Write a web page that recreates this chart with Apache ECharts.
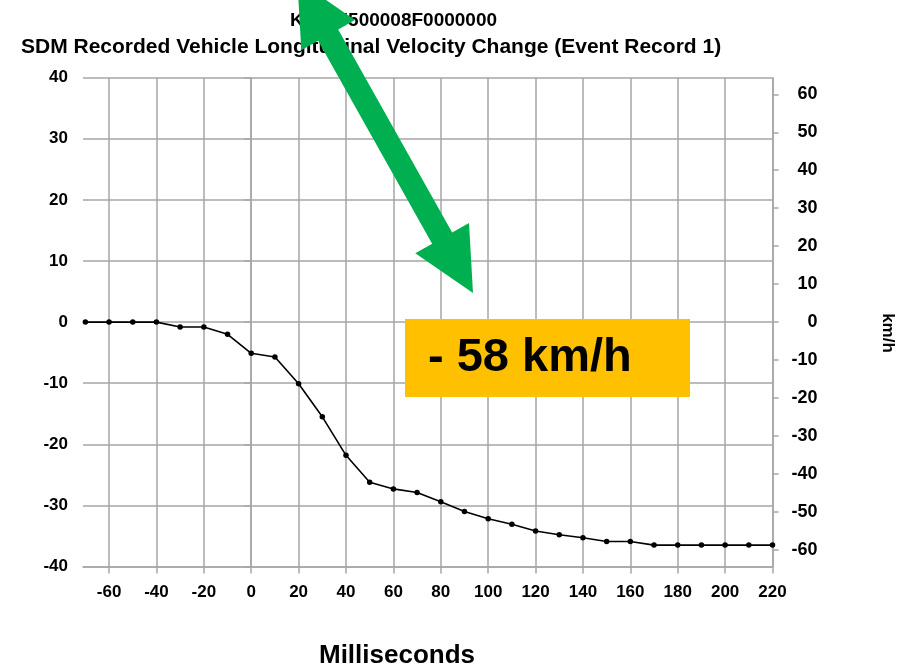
<!DOCTYPE html>
<html>
<head>
<meta charset="utf-8">
<script src="https://cdn.jsdelivr.net/npm/echarts@6/dist/echarts.min.js"></script>
<style>
  html, body { margin: 0; padding: 0; background: #ffffff; }
  #chart { width: 916px; height: 667px; }
</style>
</head>
<body>
<div id="chart"></div>
<script>
// Time relative to algorithm enable (ms)
const timeMs = [-70, -60, -50, -40, -30, -20, -10, 0, 10, 20, 30, 40, 50, 60, 70, 80, 90, 100,
  110, 120, 130, 140, 150, 160, 170, 180, 190, 200, 210, 220];
// Recorded longitudinal velocity change (mph)
const deltaVmph = [0, 0, 0, 0, -0.8, -0.8, -2.0, -5.1, -5.7, -10.1, -15.5, -21.8, -26.2, -27.3, -27.9,
  -29.4, -31.0, -32.2, -33.1, -34.2, -34.8, -35.3, -35.9, -35.9, -36.5, -36.5, -36.5, -36.5, -36.5, -36.5];

const xTicks = [-60, -40, -20, 0, 20, 40, 60, 80, 100, 120, 140, 160, 180, 200, 220];
const kmhTicks = [60, 50, 40, 30, 20, 10, 0, -10, -20, -30, -40, -50, -60];

const MPH_TO_KMH = 1.609344;
const titleLine1 = 'KL1TJ500008F0000000';
const titleLine2 = 'SDM Recorded Vehicle Longitudinal Velocity Change (Event Record 1)';

const FONT = 'Liberation Sans, Arial, sans-serif';
const GRID = '#a6a6a6';

// total change shown in the callout, taken from the last recorded sample
const finalKmh = Math.trunc(Math.abs(deltaVmph[deltaVmph.length - 1] * MPH_TO_KMH));
const calloutText = '- ' + finalKmh + ' km/h';

// double-headed arrow along a straight centre line
function arrowPoints() {
  const cx = 359, cy = 90, dx = 0.4897, dy = 0.872;
  const t0 = -126, t1 = 232.8, head = 63, hw = 30.8, sw = 11.5;
  const P = (t, s) => [cx + dx * t + dy * s, cy + dy * t - dx * s];
  return [
    P(t0, 0), P(t0 + head, hw), P(t0 + head, sw), P(t1 - head, sw), P(t1 - head, hw),
    P(t1, 0), P(t1 - head, -hw), P(t1 - head, -sw), P(t0 + head, -sw), P(t0 + head, -hw)
  ];
}

const chart = echarts.init(document.getElementById('chart'), null, { renderer: 'canvas' });

const labelStyle = { fontFamily: FONT, fontSize: 17, fontWeight: 'bold', color: '#000' };

chart.setOption({
  backgroundColor: '#ffffff',
  animation: false,
  title: [
    { text: titleLine1, left: 285, top: 6,
      textStyle: { fontFamily: FONT, fontSize: 19, fontWeight: 'bold', color: '#000' } },
    { text: titleLine2, left: 16, top: 32,
      textStyle: { fontFamily: FONT, fontSize: 21, fontWeight: 'bold', color: '#000' } }
  ],
  grid: { left: 83, right: 143.5, top: 77.7, bottom: 100.5, containLabel: false },
  xAxis: {
    type: 'value', min: -71, max: 220,
    axisLine: { show: true, onZero: false, lineStyle: { color: GRID, width: 1.5 } },
    axisTick: { show: true, length: 7, customValues: xTicks, lineStyle: { color: GRID, width: 1.5 } },
    axisLabel: Object.assign({ customValues: xTicks, margin: 17 }, labelStyle),
    splitLine: { show: true, lineStyle: { color: GRID, width: 1.5 } }
  },
  yAxis: [
    {
      type: 'value', min: -40, max: 40, interval: 10,
      axisLine: { show: true, lineStyle: { color: GRID, width: 1.5 } },
      axisTick: { show: true, length: 7, lineStyle: { color: GRID, width: 1.5 } },
      axisLabel: Object.assign({ margin: 15 }, labelStyle),
      splitLine: { show: true, lineStyle: { color: GRID, width: 1.5 } }
    },
    {
      type: 'value', position: 'right',
      min: -40 * MPH_TO_KMH, max: 40 * MPH_TO_KMH,
      axisLine: { show: true, lineStyle: { color: GRID, width: 1.5 } },
      axisTick: { show: true, length: 6, customValues: kmhTicks, lineStyle: { color: GRID, width: 1.5 } },
      axisLabel: Object.assign({ customValues: kmhTicks, margin: 45, align: 'right' }, labelStyle, { fontSize: 18 }),
      splitLine: { show: false }
    }
  ],
  series: [{
    type: 'line',
    yAxisIndex: 0,
    data: timeMs.map((t, i) => [t, deltaVmph[i]]),
    symbol: 'circle', symbolSize: 5.5,
    itemStyle: { color: '#000' },
    lineStyle: { color: '#000', width: 1.6 },
    z: 3
  }],
  graphic: [
    { type: 'text', x: 397, y: 656, z: 10,
      style: { text: 'Milliseconds', font: 'bold 26px ' + FONT, fill: '#000', align: 'center', verticalAlign: 'middle' } },
    { type: 'text', x: 888, y: 333, rotation: -Math.PI / 2, z: 10,
      style: { text: 'km/h', font: 'bold 17px ' + FONT, fill: '#000', align: 'center', verticalAlign: 'middle' } },
    { type: 'rect', shape: { x: 405, y: 319, width: 285, height: 78 }, z: 20,
      style: { fill: '#ffc000' } },
    { type: 'text', x: 428, y: 358, z: 21,
      style: { text: calloutText, font: 'bold 47px ' + FONT, fill: '#000', verticalAlign: 'middle' } },
    { type: 'polygon', z: 30, shape: { points: arrowPoints() }, style: { fill: '#00b050' } }
  ]
});
</script>
</body>
</html>
